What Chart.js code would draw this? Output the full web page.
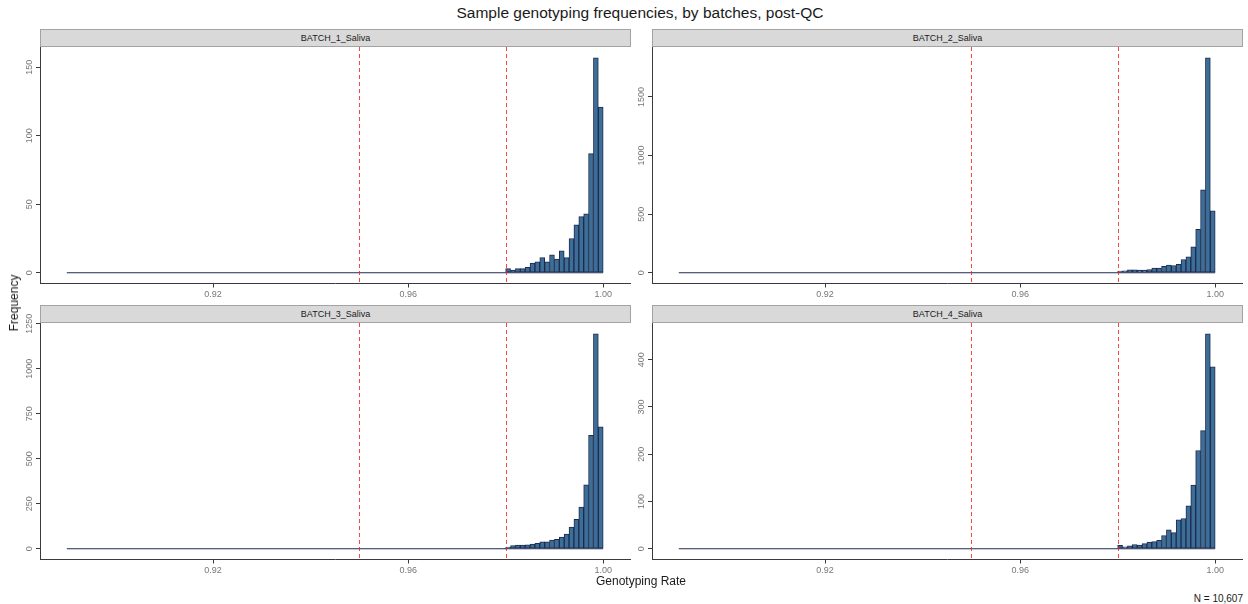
<!DOCTYPE html>
<html>
<head>
<meta charset="utf-8">
<script src="https://cdn.jsdelivr.net/npm/chart.js@4.4.1/dist/chart.umd.min.js"></script>
<style>
html,body{margin:0;padding:0;background:#fff;}
#wrap{position:relative;width:1248px;height:604px;overflow:hidden;background:#fff;font-family:'Liberation Sans',Arial,sans-serif;}
canvas.cv{position:absolute;z-index:1;}
.strip{position:absolute;box-sizing:border-box;background:#d9d9d9;border:1px solid #a3a3a3;font-size:9px;color:#1a1a1a;text-align:center;line-height:16px;height:18px;z-index:2;}
.txt{position:absolute;white-space:nowrap;z-index:3;}
</style>
</head>
<body>
<div id="wrap">
  <div class="txt" id="title" style="left:0;width:1280px;top:4px;text-align:center;font-size:15.5px;color:#1a1a1a;">Sample genotyping frequencies, by batches, post-QC</div>
  <div class="strip" style="left:40px;top:29px;width:591px;">BATCH_1_Saliva</div>
  <div class="strip" style="left:652px;top:29px;width:591px;">BATCH_2_Saliva</div>
  <div class="strip" style="left:40px;top:305px;width:591px;">BATCH_3_Saliva</div>
  <div class="strip" style="left:652px;top:305px;width:591px;">BATCH_4_Saliva</div>
  <canvas class="cv" id="c1" width="632" height="273" style="left:0;top:37px;"></canvas>
  <canvas class="cv" id="c2" width="632" height="273" style="left:612px;top:37px;"></canvas>
  <canvas class="cv" id="c3" width="632" height="273" style="left:0;top:313px;"></canvas>
  <canvas class="cv" id="c4" width="632" height="273" style="left:612px;top:313px;"></canvas>
  <div class="txt" style="left:14px;top:303px;font-size:12px;color:#1a1a1a;transform:translate(-50%,-50%) rotate(-90deg);">Frequency</div>
  <div class="txt" style="left:641px;top:574px;font-size:12px;color:#1a1a1a;transform:translateX(-50%);">Genotyping Rate</div>
  <div class="txt" style="right:5px;top:593px;font-size:10px;color:#1a1a1a;">N = 10,607</div>
</div>
<script>
// ---- data ----
const binWidth = 0.001;
const histStart = 0.89;
const binLeft = [0.979,0.980,0.981,0.982,0.983,0.984,0.985,0.986,0.987,0.988,0.989,0.990,0.991,0.992,0.993,0.994,0.995,0.996,0.997,0.998,0.999];
const batch1 = [0,3,2,3,3,4,7,8,11,8,13,10,16,11,25,35,41,43,87,157,121];
const batch2 = [0,14,17,25,25,23,23,28,40,40,54,65,62,71,113,136,221,371,708,1834,529];
const batch3 = [3,9,18,20,20,22,26,30,39,39,48,52,65,81,120,163,231,355,631,1195,677];
const batch4 = [0,7,4,6,9,8,11,14,15,18,28,40,34,61,64,91,135,208,250,455,385];
const xTicks = [0.92,0.96,1.00];
const yTicks1 = [0,50,100,150];
const yTicks2 = [0,500,1000,1500];
const yTicks3 = [0,250,500,750,1000,1250];
const yTicks4 = [0,100,200,300,400];
const thresholds = [0.95,0.98];

// ---- style ----
const FAMILY = "'Liberation Sans', Arial, sans-serif";
const FILL = '#3d6e98';
const OUTLINE = '#1d2b4e';
const AXIS = '#3a3a3a';
const TICKC = '#777777';
const Y_LABEL_OFFSET = 10.3;

const binEnd = binLeft[binLeft.length-1] + binWidth;
const span = binEnd - histStart;
const xMin = histStart - 0.05*span;
const xMax = binEnd + 0.05*span;

const thresholdPlugin = {
  id: 'thresholds',
  afterDatasetsDraw(chart) {
    const {ctx, chartArea, scales} = chart;
    ctx.save();
    ctx.strokeStyle = 'rgba(255,20,20,0.8)';
    ctx.lineWidth = 1;
    ctx.setLineDash([4,3]);
    thresholds.forEach(t => {
      const px = Math.round(scales.x.getPixelForValue(t)) + 0.5;
      ctx.beginPath();
      ctx.moveTo(px, chartArea.top);
      ctx.lineTo(px, chartArea.bottom);
      ctx.stroke();
    });
    ctx.restore();
  }
};

function tickPad(labels) {
  const c = document.createElement('canvas').getContext('2d');
  c.font = '9px ' + FAMILY;
  const w = Math.max(...labels.map(l => c.measureText(String(l)).width));
  return Y_LABEL_OFFSET - 4 - w/2;
}

function makeChart(id, counts, yTicks) {
  const maxC = Math.max(...counts);
  new Chart(document.getElementById(id), {
    type: 'bar',
    data: {
      datasets: [
        {
          type: 'bar',
          data: binLeft.map((b,i) => ({x: b + binWidth/2, y: counts[i]})),
          backgroundColor: FILL,
          borderColor: OUTLINE,
          borderWidth: 1,
          borderSkipped: false,
          barPercentage: 1,
          categoryPercentage: 1,
          order: 1
        },
        {
          type: 'line',
          data: [{x: histStart, y: 0}, {x: binEnd, y: 0}],
          borderColor: OUTLINE,
          borderWidth: 1,
          pointRadius: 0,
          tension: 0,
          order: 2
        }
      ]
    },
    options: {
      responsive: false,
      animation: false,
      devicePixelRatio: 1,
      events: [],
      layout: {padding: {top: 10, right: 2, left: 0, bottom: 0}},
      plugins: {legend: {display: false}, tooltip: {enabled: false}, title: {display: false}},
      scales: {
        x: {
          type: 'linear',
          min: xMin, max: xMax,
          offset: false,
          afterBuildTicks: s => { s.ticks = xTicks.map(v => ({value: v})); },
          afterFit: s => { s.height = 26.5; },
          grid: {offset: false, drawOnChartArea: false, drawTicks: true, tickLength: 4, color: AXIS, lineWidth: 1},
          border: {display: true, color: AXIS, width: 1},
          ticks: {padding: 2, color: TICKC, font: {size: 9, family: FAMILY}, maxRotation: 0, minRotation: 0, autoSkip: false,
                  callback: v => Number(v).toFixed(2)}
        },
        y: {
          type: 'linear',
          min: -0.05*maxC, max: 1.05*maxC,
          afterBuildTicks: s => { s.ticks = yTicks.map(v => ({value: v})); },
          afterFit: s => { s.width = 40; },
          grid: {offset: false, drawOnChartArea: false, drawTicks: true, tickLength: 4, color: AXIS, lineWidth: 1},
          border: {display: true, color: AXIS, width: 1},
          ticks: {minRotation: 90, maxRotation: 90, crossAlign: 'center', padding: tickPad(yTicks),
                  color: TICKC, font: {size: 9, family: FAMILY}, autoSkip: false,
                  callback: v => String(v)}
        }
      }
    },
    plugins: [thresholdPlugin]
  });
}

makeChart('c1', batch1, yTicks1);
makeChart('c2', batch2, yTicks2);
makeChart('c3', batch3, yTicks3);
makeChart('c4', batch4, yTicks4);
</script>
</body>
</html>
